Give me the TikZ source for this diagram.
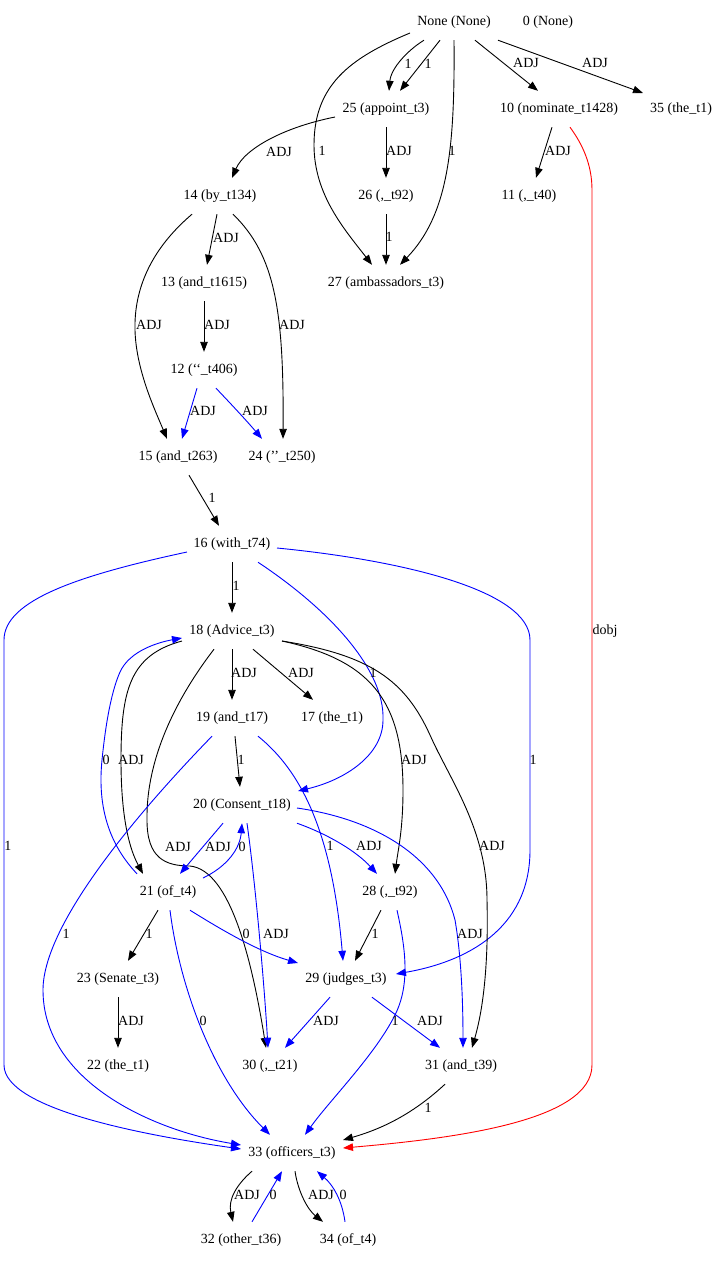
\documentclass[tikz,border=0pt]{standalone}
\usepackage{fontspec}
\setmainfont{Liberation Serif}
\usetikzlibrary{arrows.meta}
\begin{document}
\begin{tikzpicture}[x=1pt,y=-1pt,
  word/.style={font=\fontsize{14}{16}\selectfont, minimum height=36pt,
    inner xsep=8pt, inner ysep=0pt, text height=10pt, text depth=3pt},
  lab/.style={font=\fontsize{14}{16}\selectfont, inner sep=0pt,
    text height=10pt, text depth=3pt},
  dep/.style={line width=0.9pt, -{Triangle[length=10pt,width=7.5pt]}},
  bdep/.style={dep, blue},
  rdep/.style={dep, red}]
\fill[white] (0,0) rectangle (724,1262);
\useasboundingbox (0,0) rectangle (724,1262);

% tokens
\node[word] (none) at (454,22)   {None (None)};
\node[word] (n0)   at (548,22)   {0 (None)};
\node[word] (n25)  at (386,109)  {25 (appoint\_t3)};
\node[word] (n10)  at (559,109)  {10 (nominate\_t1428)};
\node[word] (n35)  at (681,109)  {35 (the\_t1)};
\node[word] (n14)  at (220,196)  {14 (by\_t134)};
\node[word] (n26)  at (386,196)  {26 (,\_t92)};
\node[word] (n11)  at (529,196)  {11 (,\_t40)};
\node[word] (n13)  at (204,283)  {13 (and\_t1615)};
\node[word] (n27)  at (386,283)  {27 (ambassadors\_t3)};
\node[word] (n12)  at (204,370)  {12 (‘‘\_t406)};
\node[word] (n15)  at (178,457)  {15 (and\_t263)};
\node[word] (n24)  at (282,457)  {24 (’’\_t250)};
\node[word] (n16)  at (232,544)  {16 (with\_t74)};
\node[word] (n18)  at (232,631)  {18 (Advice\_t3)};
\node[word] (n19)  at (232,718)  {19 (and\_t17)};
\node[word] (n17)  at (332,718)  {17 (the\_t1)};
\node[word] (n20)  at (242,805)  {20 (Consent\_t18)};
\node[word] (n21)  at (168,892)  {21 (of\_t4)};
\node[word] (n28)  at (390,892)  {28 (,\_t92)};
\node[word] (n23)  at (118,979)  {23 (Senate\_t3)};
\node[word] (n29)  at (346,979)  {29 (judges\_t3)};
\node[word] (n22)  at (118,1066) {22 (the\_t1)};
\node[word] (n30)  at (270,1066) {30 (,\_t21)};
\node[word] (n31)  at (461,1066) {31 (and\_t39)};
\node[word] (n33)  at (292,1153) {33 (officers\_t3)};
\node[word] (n32)  at (241,1240) {32 (other\_t36)};
\node[word] (n34)  at (348,1240) {34 (of\_t4)};

% dependencies from the root
\draw[dep] ([xshift=-30pt]none.south) .. controls (408,50) and (391,68) .. ([xshift=3pt]n25.north);
\draw[dep] ([xshift=-14pt]none.south) -- ([xshift=14pt]n25.north);
\draw[dep] ([shift={(-44,11)}]none.center) .. controls (350,58) and (314,85) .. (314,145)
  .. controls (314,195) and (345,230) .. ([xshift=-14pt]n27.north);
\draw[dep] (none.south) .. controls (455,150) and (448,215) .. ([xshift=14pt]n27.north);
\draw[dep] ([xshift=21pt]none.south) -- ([xshift=-21pt]n10.north);
\draw[dep] ([xshift=44pt]none.south) -- ([shift={(-38,-16)}]n35.center);

% upper part
\draw[dep] ([shift={(-51,8)}]n25.center) .. controls (285,127) and (245,148) .. ([xshift=12pt]n14.north);
\draw[dep] (n25.south) -- (n26.north);
\draw[dep] (n26.south) -- (n27.north);
\draw[dep] ([xshift=-7pt]n10.south) -- ([xshift=7pt]n11.north);
\draw[rdep] ([xshift=11pt]n10.south) .. controls (583,145) and (592,165) .. (592,190)
  -- (592,1065) .. controls (592,1120) and (460,1138) .. ([shift={(51,-5)}]n33.center);
\draw[dep] ([xshift=-3pt]n14.south) -- ([xshift=3pt]n13.north);
\draw[dep] ([xshift=-28pt]n14.south) .. controls (150,250) and (134,290) .. (135,330)
  .. controls (136,370) and (155,410) .. ([xshift=-11pt]n15.north);
\draw[dep] ([xshift=13pt]n14.south) .. controls (275,255) and (284,310) .. ([xshift=1pt]n24.north);
\draw[dep] (n13.south) -- (n12.north);
\draw[bdep] ([xshift=-7pt]n12.south) -- ([xshift=4pt]n15.north);
\draw[bdep] ([xshift=12pt]n12.south) .. controls (231,404) and (246,420) .. ([xshift=-20pt]n24.north);
\draw[dep] ([xshift=11pt]n15.south) -- ([xshift=-13pt]n16.north);

% with / Advice
\draw[dep] (n16.south) -- (n18.north);
\draw[bdep] ([shift={(-45,8)}]n16.center) .. controls (80,575) and (4,600) .. (4,640)
  -- (4,1065) .. controls (4,1110) and (150,1136) .. ([shift={(-51,-4)}]n33.center);
\draw[bdep] ([xshift=26pt]n16.south) .. controls (330,610) and (385,670) .. (383,720)
  .. controls (383,755) and (345,780) .. ([shift={(56,-14)}]n20.center);
\draw[bdep] ([shift={(45,4)}]n16.center) .. controls (400,560) and (530,590) .. (530,640)
  -- (530,850) .. controls (530,930) and (465,962) .. ([shift={(50,-5)}]n29.center);
\draw[dep] (n18.south) -- (n19.north);
\draw[dep] ([xshift=21pt]n18.south) -- ([xshift=-19pt]n17.north);
\draw[dep] ([shift={(-50,10)}]n18.center) .. controls (130,655) and (121,690) .. (121,760)
  .. controls (121,820) and (130,850) .. ([xshift=-25pt]n21.north);
\draw[bdep] ([xshift=-31pt]n21.north) .. controls (105,840) and (98,800) .. (102,760)
  .. controls (106,720) and (112,690) .. (120,672)
  .. controls (130,650) and (160,642) .. ([shift={(-50,7)}]n18.center);
\draw[dep] ([xshift=-18pt]n18.south) .. controls (175,700) and (146,760) .. (147,820)
  .. controls (147,858) and (165,866) .. (190,866)
  .. controls (230,870) and (252,960) .. ([xshift=-4pt]n30.north);
\draw[dep] ([shift={(50,10)}]n18.center) .. controls (370,660) and (403,700) .. (403,790)
  .. controls (403,830) and (398,850) .. ([xshift=5pt]n28.north);
\draw[dep] ([shift={(50,10)}]n18.center) .. controls (370,655) and (405,680) .. (430,735)
  .. controls (450,780) and (487,830) .. (487,900)
  .. controls (489,980) and (480,1020) .. ([xshift=11pt]n31.north);

% and / Consent
\draw[dep] ([xshift=3pt]n19.south) -- ([xshift=-2pt]n20.north);
\draw[bdep] ([xshift=-20pt]n19.south) .. controls (150,800) and (43,920) .. (43,990)
  .. controls (43,1080) and (150,1130) .. ([shift={(-51,-8)}]n33.center);
\draw[bdep] ([xshift=26pt]n19.south) .. controls (300,770) and (332,830) .. ([xshift=-3pt]n29.north);
\draw[bdep] ([xshift=-19pt]n20.south) -- ([xshift=12pt]n21.north);
\draw[bdep] ([shift={(35,-14)}]n21.center) .. controls (228,866) and (240,848) .. (n20.south);
\draw[bdep] ([xshift=5pt]n20.south) .. controls (255,880) and (264,980) .. ([xshift=-2pt]n30.north);
\draw[bdep] ([xshift=55pt]n20.south) .. controls (330,835) and (357,852) .. ([xshift=-13pt]n28.north);
\draw[bdep] ([shift={(55,3)}]n20.center) .. controls (380,820) and (440,860) .. (455,920)
  .. controls (462,960) and (463,1010) .. ([xshift=2pt]n31.north);

% of / judges
\draw[dep] ([xshift=-10pt]n21.south) -- ([xshift=10pt]n23.north);
\draw[bdep] ([xshift=22pt]n21.south) .. controls (225,932) and (260,952) .. ([shift={(-48,-16)}]n29.center);
\draw[bdep] ([xshift=2pt]n21.south) .. controls (180,990) and (215,1080) .. ([xshift=-22pt]n33.north);
\draw[dep] ([xshift=-9pt]n28.south) -- ([xshift=9pt]n29.north);
\draw[bdep] ([xshift=7pt]n28.south) .. controls (406,950) and (410,985) .. (395,1015)
  .. controls (375,1055) and (330,1100) .. ([xshift=13pt]n33.north);
\draw[bdep] ([xshift=-16pt]n29.south) -- ([xshift=15pt]n30.north);
\draw[bdep] ([xshift=26pt]n29.south) -- ([xshift=-21pt]n31.north);
\draw[dep] (n23.south) -- (n22.north);
\draw[dep] ([xshift=-16pt]n31.south) .. controls (415,1112) and (385,1128) .. ([shift={(51,-13)}]n33.center);

% officers
\draw[dep] ([xshift=-40pt]n33.south) .. controls (236,1185) and (228,1200) .. ([xshift=-8pt]n32.north);
\draw[bdep] ([xshift=11pt]n32.north) -- ([xshift=-10pt]n33.south);
\draw[dep] ([xshift=3pt]n33.south) .. controls (298,1192) and (308,1210) .. ([xshift=-25pt]n34.north);
\draw[bdep] ([xshift=-3pt]n34.north) .. controls (342,1200) and (333,1185) .. ([xshift=25pt]n33.south);

% edge labels
\node[lab] (l1)  at (408,65)   {1};
\node[lab] (l2)  at (428,65)   {1};
\node[lab] (l3)  at (322,152)  {1};
\node[lab] (l4)  at (452,152)  {1};
\node[lab] (l5)  at (526,64)   {ADJ};
\node[lab] (l6)  at (595,64)   {ADJ};
\node[lab] (l7)  at (279,153)  {ADJ};
\node[lab] (l8)  at (399,152)  {ADJ};
\node[lab] (l9)  at (389,238)  {1};
\node[lab] (l10) at (558,152)  {ADJ};
\node[lab] (l11) at (605,631)  {dobj};
\node[lab] (l12) at (226,239)  {ADJ};
\node[lab] (l13) at (149,326)  {ADJ};
\node[lab] (l14) at (217,326)  {ADJ};
\node[lab] (l15) at (292,326)  {ADJ};
\node[lab] (l16) at (203,412)  {ADJ};
\node[lab] (l17) at (255,412)  {ADJ};
\node[lab] (l18) at (212,499)  {1};
\node[lab] (l19) at (236,587)  {1};
\node[lab] (l20) at (244,674)  {ADJ};
\node[lab] (l21) at (301,674)  {ADJ};
\node[lab] (l22) at (241,761)  {1};
\node[lab] (l23) at (106,761)  {0};
\node[lab] (l24) at (131,761)  {ADJ};
\node[lab] (l25) at (373,674)  {1};
\node[lab] (l26) at (414,761)  {ADJ};
\node[lab] (l27) at (533,761)  {1};
\node[lab] (l28) at (330,847)  {1};
\node[lab] (l29) at (369,847)  {ADJ};
\node[lab] (l30) at (492,847)  {ADJ};
\node[lab] (l31) at (178,848)  {ADJ};
\node[lab] (l32) at (218,848)  {ADJ};
\node[lab] (l33) at (242,848)  {0};
\node[lab] (l34) at (8,847)    {1};
\node[lab] (l35) at (66,935)   {1};
\node[lab] (l36) at (149,935)  {1};
\node[lab] (l37) at (246,935)  {0};
\node[lab] (l38) at (276,935)  {ADJ};
\node[lab] (l39) at (375,935)  {1};
\node[lab] (l40) at (470,935)  {ADJ};
\node[lab] (l41) at (131,1022) {ADJ};
\node[lab] (l42) at (203,1022) {0};
\node[lab] (l43) at (326,1022) {ADJ};
\node[lab] (l44) at (395,1022) {1};
\node[lab] (l45) at (430,1022) {ADJ};
\node[lab] (l46) at (428,1109) {1};
\node[lab] (l47) at (247,1196) {ADJ};
\node[lab] (l48) at (273,1196) {0};
\node[lab] (l49) at (321,1196) {ADJ};
\node[lab] (l50) at (343,1196) {0};
\end{tikzpicture}
\end{document}
